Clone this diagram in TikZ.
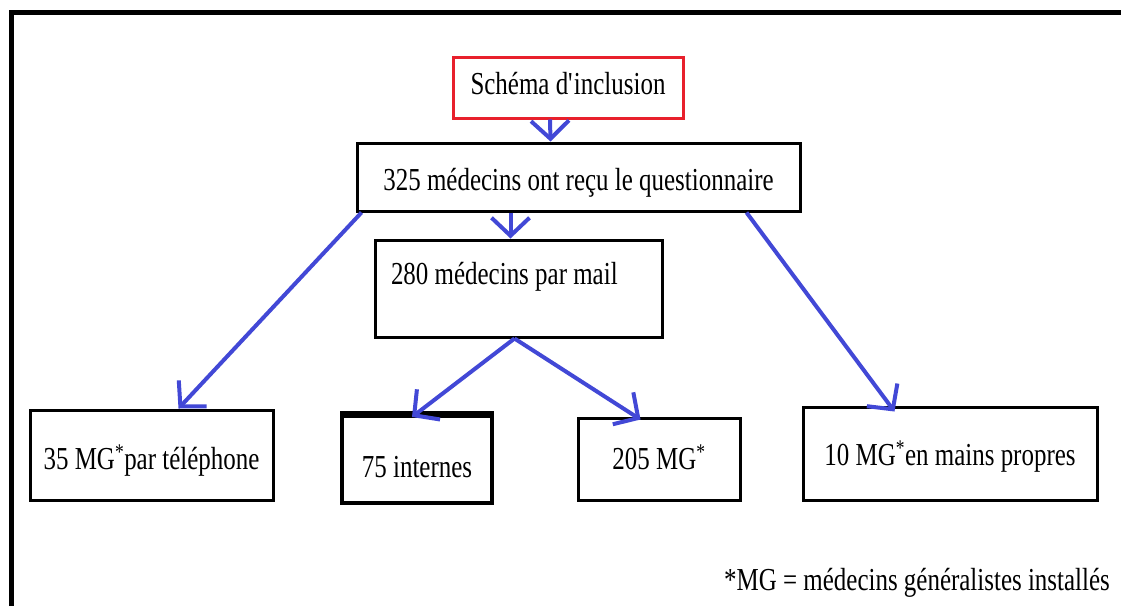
\documentclass[tikz,border=0pt]{standalone}
\usepackage{fontspec}
\setmainfont{Liberation Serif}[FakeStretch=0.78]
\usetikzlibrary{arrows.meta,calc}
\definecolor{arrowblue}{RGB}{66,72,214}
\definecolor{boxred}{RGB}{232,32,44}
\begin{document}
\begin{tikzpicture}[x=1pt,y=-1pt,
  box/.style={draw=black,line width=3pt,rectangle,inner sep=0pt,
    font=\fontsize{32}{38}\selectfont,text depth=0pt},
  arr/.style={draw=arrowblue,line width=4pt,
    -{Straight Barb[length=18pt,width=38pt]}},
  note/.style={inner sep=0pt,font=\fontsize{32}{38}\selectfont}]
\useasboundingbox (0,0) rectangle (1121,606);
% frame
\draw[line width=5pt] (11,606) -- (11,12) -- (1121,12);
% boxes
\node[box,draw=boxred,minimum width=230pt,minimum height=61pt,
  text height=22pt,text depth=8pt] (title) at (568,87.5)
  {Schéma d\textquotesingle inclusion};
\node[box,minimum width=443pt,minimum height=68pt,text height=26pt]
  (q) at (578.5,177) {325 médecins ont reçu le questionnaire};
\node[box,minimum width=287pt,minimum height=97pt,text height=22pt,
  text depth=31pt]
  (mail) at (518.5,288.5) {\makebox[255pt][l]{280 médecins par mail}};
\node[box,minimum width=243pt,minimum height=90pt,text height=28pt]
  (tel) at (151.5,455) {35 MG\textsuperscript{*}par téléphone};
\node[box,line width=4pt,minimum width=150pt,minimum height=87pt,
  text height=35pt] (int) at (417,459.5) {75 internes};
\draw[line width=7pt] (int.north west) -- (int.north east);
\node[box,minimum width=162pt,minimum height=82pt,text height=20pt]
  (mg) at (659,459) {205 MG\textsuperscript{*}};
\node[box,minimum width=294pt,minimum height=93pt,text height=23pt]
  (mains) at (950,453.5) {10 MG\textsuperscript{*}en mains propres};
\node[note,anchor=base east] (fn) at (1110,590)
  {*MG = médecins généralistes installés};
% arrows
\draw[arr] ($(title.south)+(-18,0)$) -- ($(q.north)+(-28,0)$);
\draw[arr] ($(q.south)+(-68,0)$) -- ($(mail.north)+(-8,0)$);
\draw[arr] ($(q.south west)+(6,0)$) -- ($(tel.north west)+(150,0)$);
\draw[arr] ($(q.south east)+(-55,0)$) -- ($(mains.north west)+(93,6)$);
\draw[arr] ($(mail.south)+(-4,0)$) coordinate (split)
  -- ($(int.north west)+(72,3)$);
\draw[arr] (split) -- ($(mg.north west)+(64,3)$);
\end{tikzpicture}
\end{document}
